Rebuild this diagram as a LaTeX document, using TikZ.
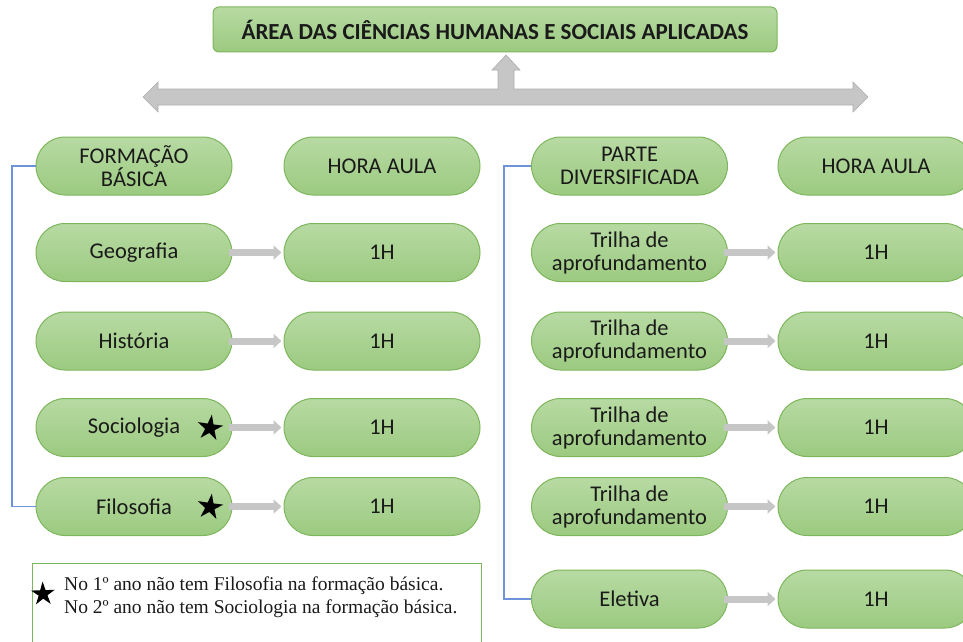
\documentclass[tikz,border=0pt]{standalone}
\usepackage{fontspec}
\setmainfont{Carlito}
\newfontfamily\notefont{Liberation Serif}
\usetikzlibrary{shapes.geometric,arrows.meta}
\definecolor{pilltop}{HTML}{B7DAA3}
\definecolor{pillbot}{HTML}{9CCA80}
\definecolor{pilledge}{HTML}{7DB65C}
\definecolor{txt}{HTML}{1A1A1A}
\definecolor{arrfill}{HTML}{C6C6C6}
\definecolor{arredge}{HTML}{ADADAD}
\definecolor{brk}{HTML}{6F93D8}
\tikzset{
  pill/.style={draw=pilledge, line width=1pt, top color=pilltop, bottom color=pillbot,
    rounded corners=29pt, minimum width=196pt, minimum height=58pt, inner sep=0pt,
    align=center, text=txt, font=\fontsize{22.5}{23}\selectfont},
  titlebox/.style={draw=pilledge, line width=1pt, top color=pilltop, bottom color=pillbot,
    rounded corners=6pt, minimum width=564pt, minimum height=45pt, inner sep=0pt,
    text=txt, font=\bfseries\fontsize{23}{25}\selectfont},
  link/.style={line width=7pt, arrfill, -{Triangle[length=8pt,width=14pt]}, shorten <=-4pt, shorten >=2pt},
  bracket/.style={draw=brk, line width=1.2pt},
  starmark/.style={star, star points=5, star point ratio=2.7, fill=black, inner sep=0pt, minimum size=27pt, rotate=-8},
  notebox/.style={draw=pilledge, line width=1pt}
}
\begin{document}
\begin{tikzpicture}[x=1pt,y=-1pt]
\useasboundingbox (0,0) rectangle (963,642);
% title
\node[titlebox] (title) at (495,29.5) {ÁREA DAS CIÊNCIAS HUMANAS E SOCIAIS APLICADAS};
% big arrow
\filldraw[fill=arrfill, draw=arredge, line width=0.6pt]
 (143,97) -- (158,82) -- (158,89) -- (498,89) -- (498,70) -- (492,70) -- (506,55)
 -- (520,70) -- (514,70) -- (514,89) -- (853,89) -- (853,82) -- (868,97)
 -- (853,112) -- (853,105) -- (158,105) -- (158,112) -- cycle;
% left column
\node[pill] (fb) at (134,166) {FORMAÇÃO\\BÁSICA};
\node[pill] (hl) at (382,166) {HORA AULA};
\node[pill] (geo) at (134,252.5) {Geografia};
\node[pill] (hgeo) at (382,252.5) {1H};
\node[pill] (his) at (134,341) {História};
\node[pill] (hhis) at (382,341) {1H};
\node[pill] (soc) at (134,427.5) {Sociologia};
\node[pill] (hsoc) at (382,427.5) {1H};
\node[pill] (fil) at (134,506.5) {Filosofia};
\node[pill] (hfil) at (382,506.5) {1H};
% right column
\node[pill] (pd) at (629.5,166) {PARTE\\DIVERSIFICADA};
\node[pill] (hr) at (876,166) {HORA AULA};
\node[pill] (t1) at (629.5,252.5) {Trilha de\\aprofundamento};
\node[pill] (ht1) at (876,252.5) {1H};
\node[pill] (t2) at (629.5,341) {Trilha de\\aprofundamento};
\node[pill] (ht2) at (876,341) {1H};
\node[pill] (t3) at (629.5,427.5) {Trilha de\\aprofundamento};
\node[pill] (ht3) at (876,427.5) {1H};
\node[pill] (t4) at (629.5,506.5) {Trilha de\\aprofundamento};
\node[pill] (ht4) at (876,506.5) {1H};
\node[pill] (ele) at (629.5,599) {Eletiva};
\node[pill] (hele) at (876,599) {1H};
% links
\foreach \a/\b in {geo/hgeo,his/hhis,soc/hsoc,fil/hfil,t1/ht1,t2/ht2,t3/ht3,t4/ht4,ele/hele}
  \draw[link] (\a.east) -- (\b.west);
% stars
\node[starmark] (s1) at (210,428) {};
\node[starmark] (s2) at (210,507) {};
% brackets
\coordinate (lb) at (12,0);
\coordinate (rb) at (504,0);
\draw[bracket] (fb.west) -- (fb.west -| lb) -- (fil.west -| lb) -- (fil.west);
\draw[bracket] (pd.west) -- (pd.west -| rb) -- (ele.west -| rb) -- (ele.west);
% note
\draw[notebox] (32,563) rectangle (481,650);
\node[starmark, minimum size=25pt, rotate=10] (s3) at (43,594) {};
\node[anchor=west, align=left, inner sep=0pt, font=\notefont\fontsize{19.5}{23}\selectfont, text=txt] (note) at (64,597)
  {No 1º ano não tem Filosofia na formação básica.\\No 2º ano não tem Sociologia na formação básica.};
\end{tikzpicture}
\end{document}
